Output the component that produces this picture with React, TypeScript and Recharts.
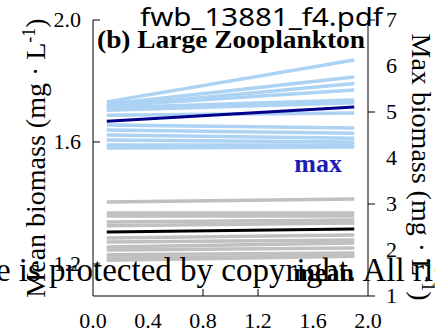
import React from 'react';
import { LineChart, Line, XAxis, YAxis } from 'recharts';

// x positions where every trend line starts and ends
const xPoints = [0.1, 1.9];

// max biomass (right axis), one light line per run
const maxStart = [5.22, 5.17, 5.12, 5.13, 5.09, 5.04, 4.93, 4.72, 4.61, 4.5, 4.39, 4.28, 4.22];
const maxEnd = [6.13, 5.76, 5.62, 5.48, 5.26, 5.2, 4.98, 4.65, 4.54, 4.43, 4.35, 4.28, 4.24];
const maxOverall = [4.8, 5.11];

// mean biomass (left axis)
const meanStart = [1.403, 1.367, 1.357, 1.338, 1.325, 1.285, 1.272, 1.256, 1.246, 1.23, 1.22, 1.212];
const meanEnd = [1.413, 1.367, 1.357, 1.344, 1.334, 1.295, 1.279, 1.269, 1.252, 1.236, 1.226, 1.225];
const meanOverall = [1.305, 1.315];

const xTicks = [0, 0.4, 0.8, 1.2, 1.6, 2.0];
const meanTicks = [1.2, 1.6, 2.0];
const maxTicks = [1, 2, 3, 4, 5, 6, 7];

const data = xPoints.map((x, i) => {
  const row: Record<string, number> = { x, maxAll: maxOverall[i], meanAll: meanOverall[i] };
  maxStart.forEach((s, k) => (row['max' + k] = i === 0 ? s : maxEnd[k]));
  meanStart.forEach((s, k) => (row['mean' + k] = i === 0 ? s : meanEnd[k]));
  return row;
});

const serif = '"Liberation Serif", "Times New Roman", serif';

const BottomTick = (props: any) => {
  const { x, y, payload } = props;
  const v = payload.value;
  return (
    <g>
      {(v === 0.8 || v === 1.2) && <line x1={x} y1={y} x2={x} y2={y - 7} stroke="#000" />}
      <text x={x} y={y + 32} textAnchor="middle" fontFamily={serif} fontSize={22} fill="#000">
        {v.toFixed(1)}
      </text>
    </g>
  );
};

const LeftTick = (props: any) => {
  const { x, y, payload } = props;
  return (
    <g>
      <line x1={x + 12} y1={y} x2={x + 19} y2={y} stroke="#000" />
      <text x={x} y={y + 7} textAnchor="end" fontFamily={serif} fontSize={22} fill="#000">
        {payload.value.toFixed(1)}
      </text>
    </g>
  );
};

const RightTick = (props: any) => {
  const { x, y, payload } = props;
  const v = payload.value;
  return (
    <g>
      {v % 2 === 1 && <line x1={x} y1={y} x2={x + 7} y2={y} stroke="#000" />}
      <text x={x + 18} y={y + 7} textAnchor="start" fontFamily={serif} fontSize={22} fill="#000">
        {v}
      </text>
    </g>
  );
};

export default function App() {
  return (
    <div style={{ position: 'absolute', left: 0, top: 0, width: 435, height: 331, background: '#fff' }}>
      <LineChart width={435} height={331} data={data} margin={{ top: 20, right: 0, bottom: 0, left: 0 }}>
        <XAxis
          dataKey="x"
          type="number"
          domain={[0, 2]}
          ticks={xTicks}
          height={35}
          stroke="#000"
          tickLine={false}
          tickSize={0}
          tickMargin={0}
          tick={<BottomTick />}
        />
        <YAxis
          yAxisId="mean"
          orientation="left"
          width={93}
          domain={[1.095, 2.0]}
          ticks={meanTicks}
          allowDataOverflow
          stroke="#000"
          tickLine={false}
          tickSize={0}
          tickMargin={12}
          tick={<LeftTick />}
        />
        <YAxis
          yAxisId="max"
          orientation="right"
          width={67}
          domain={[1, 7]}
          ticks={maxTicks}
          allowDataOverflow
          stroke="#000"
          tickLine={false}
          tickSize={0}
          tickMargin={0}
          tick={<RightTick />}
        />
        {maxStart.map((_, k) => (
          <Line
            key={'max' + k}
            yAxisId="max"
            dataKey={'max' + k}
            stroke="#acd2f4"
            strokeWidth={3.5}
            dot={false}
            isAnimationActive={false}
          />
        ))}
        {meanStart.map((_, k) => (
          <Line
            key={'mean' + k}
            yAxisId="mean"
            dataKey={'mean' + k}
            stroke="#c0c0c0"
            strokeWidth={3.5}
            dot={false}
            isAnimationActive={false}
          />
        ))}
        <Line yAxisId="max" dataKey="maxAll" stroke="#00008b" strokeWidth={3} dot={false} isAnimationActive={false} />
        <Line yAxisId="mean" dataKey="meanAll" stroke="#000" strokeWidth={3} dot={false} isAnimationActive={false} />
      </LineChart>
      <svg width={435} height={331} style={{ position: 'absolute', left: 0, top: 0, pointerEvents: 'none' }}>
        <text x={97} y={48} fontFamily={serif} fontWeight="bold" fontSize={26} textLength={268} lengthAdjust="spacingAndGlyphs">
          (b) Large Zooplankton
        </text>
        <text x={342} y={172} textAnchor="end" fontFamily={serif} fontWeight="bold" fontSize={26} fill="#1c1cb4">
          max
        </text>
        <text x={354} y={281} textAnchor="end" fontFamily={serif} fontWeight="bold" fontSize={26} fill="#000">
          mean
        </text>
        <text transform="translate(45,158) rotate(-90)" textAnchor="middle" fontFamily={serif} fontSize={28}>
          Mean biomass (mg · L<tspan dy={-10} fontSize={18}>-1</tspan><tspan dy={10}>)</tspan>
        </text>
        <text transform="translate(412,167) rotate(90)" textAnchor="middle" fontFamily={serif} fontSize={28}>
          Max biomass (mg · L<tspan dy={-10} fontSize={18}>-1</tspan><tspan dy={10}>)</tspan>
        </text>
        <text x={140} y={26} fontFamily='"Noto Sans", sans-serif' fontSize={26} textLength={243} lengthAdjust="spacingAndGlyphs">
          fwb_13881_f4.pdf
        </text>
        <text x={-137} y={281} fontFamily={serif} fontSize={33} fill="#000">
          This image is protected by copyright. All rights reserved.
        </text>
      </svg>
    </div>
  );
}
